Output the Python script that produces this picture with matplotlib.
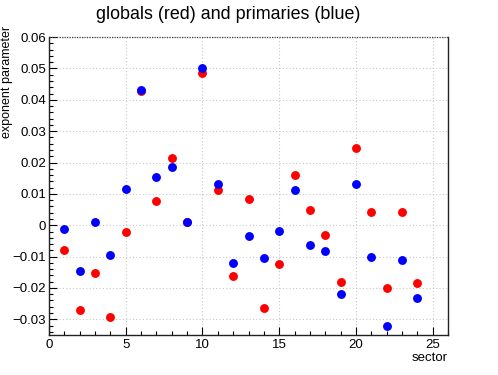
import matplotlib
matplotlib.use("Agg")
import matplotlib.pyplot as plt
from matplotlib.ticker import MultipleLocator, FuncFormatter

plt.rcParams['font.family'] = ['Liberation Sans', 'DejaVu Sans']

sectors = list(range(1, 25))
globals_red = [-0.0080, -0.0271, -0.0153, -0.0294, -0.0022, 0.0427, 0.0077, 0.0214,
               0.0010, 0.0486, 0.0111, -0.0163, 0.0083, -0.0264, -0.0124, 0.0160,
               0.0048, -0.0032, -0.0181, 0.0246, 0.0041, -0.0201, 0.0041, -0.0185]
primaries_blue = [-0.0011, -0.0147, 0.0010, -0.0094, 0.0117, 0.0430, 0.0153, 0.0187,
                  0.0010, 0.0503, 0.0131, -0.0120, -0.0035, -0.0105, -0.0019, 0.0114,
                  -0.0064, -0.0083, -0.0220, 0.0131, -0.0102, -0.0321, -0.0112, -0.0233]

fig = plt.figure(figsize=(4.98, 3.75), dpi=100)
ax = fig.add_axes([0.0984, 0.1067, 0.8012, 0.7943])

ax.plot(sectors, globals_red, 'o', color=(1, 0, 0), markersize=6.4, markeredgewidth=0, zorder=3)
ax.plot(sectors, primaries_blue, 'o', color=(0, 0, 1), markersize=6.4, markeredgewidth=0, zorder=4)

ax.set_xlim(0, 26)
ax.set_ylim(-0.035, 0.06)

ax.xaxis.set_major_locator(MultipleLocator(5))
ax.xaxis.set_minor_locator(MultipleLocator(1))
ax.yaxis.set_major_locator(MultipleLocator(0.01))
ax.yaxis.set_minor_locator(MultipleLocator(0.002))

def yfmt(v, pos):
    if abs(v) < 1e-9:
        return "0"
    return ("%.2f" % v).replace("-", "\u2212")
ax.yaxis.set_major_formatter(FuncFormatter(yfmt))
ax.xaxis.set_major_formatter(FuncFormatter(lambda v, p: "%d" % round(v)))

ax.tick_params(axis='both', which='both', direction='in', labelsize=9.5, width=0.8,
               top=False, right=False, colors='black')
ax.tick_params(axis='x', which='major', length=6, pad=3)
ax.tick_params(axis='x', which='minor', length=3)
ax.tick_params(axis='y', which='major', length=6, pad=2)
ax.tick_params(axis='y', which='minor', length=3)

ax.grid(True, which='major', linestyle=(0, (1, 2)), color='#c8c8c8', linewidth=0.8)
ax.set_axisbelow(True)

ax.spines['top'].set_visible(False)
ax.axhline(0.06, color='#444444', linestyle=(0, (1, 1)), linewidth=0.9, clip_on=False, zorder=5)
for s in ['left', 'bottom', 'right']:
    ax.spines[s].set_linewidth(1.0)
    ax.spines[s].set_color('#222222')

fig.text(0.458, 0.962, "globals (red) and primaries (blue)", ha='center', va='center', fontsize=12.9)
fig.text(0.002, 0.93, "exponent parameter", rotation=90, ha='left', va='top', fontsize=9)
fig.text(0.8996, 0.045, "sector", ha='right', va='center', fontsize=9.5)

fig.savefig("out.png", dpi=100)
